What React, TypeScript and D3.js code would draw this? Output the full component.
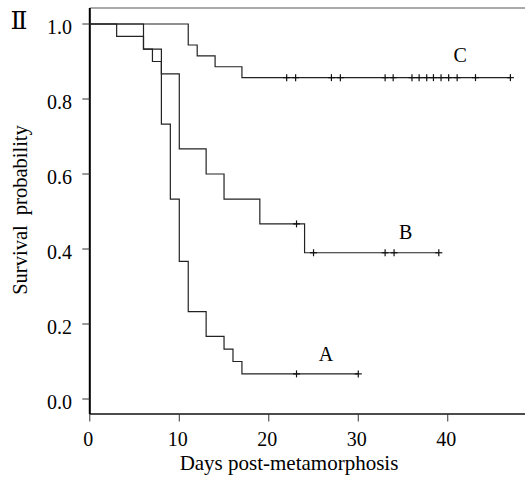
import React from "react";
import * as d3 from "d3";

const W = 525;
const H = 479;

// Group A
const timesA = [0, 3, 6, 7, 8, 9, 10, 11, 13, 15, 16, 17];
const survA = [1, 0.967, 0.933, 0.9, 0.733, 0.533, 0.367, 0.233, 0.167, 0.133, 0.1, 0.067];
const endA = 30;
const censorA = [23.1, 30];

// Group B
const timesB = [0, 6, 8, 10, 13, 15, 19, 24];
const survB = [1, 0.933, 0.867, 0.667, 0.6, 0.533, 0.467, 0.39];
const endB = 39;
const censorB = [23.1, 25, 33, 34, 39];

// Group C
const timesC = [0, 11, 12, 14, 17];
const survC = [1, 0.944, 0.915, 0.886, 0.857];
const endC = 47;
const censorC = [22, 23, 27, 28, 33, 33.9, 36, 36.8, 37.65, 38.4, 39.25, 40.1, 41.05, 43.1, 47];

const xTicks = [0, 10, 20, 30, 40];
const yTicks = [0, 0.2, 0.4, 0.6, 0.8, 1.0];

const groupLabels = ["A", "B", "C"];
const labelPos = [
  { t: 26.4, s: 0.102 },
  { t: 35.3, s: 0.427 },
  { t: 41.4, s: 0.9 },
];

export default function App() {
  const x = d3.scaleLinear().domain([0, 49]).range([89.8, 528.3]);
  const y = d3.scaleLinear().domain([-0.04, 1.0427]).range([414, 8]);

  const groups = [
    { times: timesA, surv: survA, end: endA, censor: censorA },
    { times: timesB, surv: survB, end: endB, censor: censorB },
    { times: timesC, surv: survC, end: endC, censor: censorC },
  ];

  const line = d3
    .line<[number, number]>()
    .x((d) => x(d[0]))
    .y((d) => y(d[1]))
    .curve(d3.curveStepAfter);

  const survAt = (g: any, t: number) => {
    let s = 1;
    for (let i = 0; i < g.times.length; i++) if (g.times[i] <= t) s = g.surv[i];
    return s;
  };

  const font = "'Liberation Serif', 'Times New Roman', serif";

  return (
    <svg width={W} height={H} style={{ position: "absolute", left: 0, top: 0 }}>
      <rect width={W} height={H} fill="#fff" />
      {/* frame */}
      <line x1={x(0)} x2={W + 5} y1={8} y2={8} stroke="#555" strokeWidth={1} />
      <line x1={x(0)} x2={W + 5} y1={414} y2={414} stroke="#111" strokeWidth={1.3} />
      <line x1={x(0)} x2={x(0)} y1={8} y2={414} stroke="#000" strokeWidth={2} />

      {/* y ticks */}
      {yTicks.map((v) => (
        <g key={"y" + v}>
          <line x1={x(0) - 7.5} x2={x(0)} y1={y(v)} y2={y(v)} stroke="#333" strokeWidth={1} />
          <text x={72} y={y(v) + 9.5} textAnchor="end" fontFamily={font} fontSize={20} fill="#000">
            {v.toFixed(1)}
          </text>
        </g>
      ))}
      {/* x ticks */}
      {xTicks.map((v) => (
        <g key={"x" + v}>
          <line x1={x(v)} x2={x(v)} y1={414} y2={421.5} stroke="#333" strokeWidth={1} />
          <text x={x(v) - 1.5} y={446} textAnchor="middle" fontFamily={font} fontSize={20} fill="#000">
            {v}
          </text>
        </g>
      ))}

      <text x={289} y={469.5} textAnchor="middle" fontFamily={font} fontSize={21} fill="#000">
        Days post-metamorphosis
      </text>
      <text
        transform={`translate(27,210) rotate(-90)`}
        textAnchor="middle"
        fontFamily={font}
        fontSize={20.5}
        wordSpacing={5}
        fill="#000"
      >
        Survival probability
      </text>
      <text x={10.5} y={29} fontFamily="'DejaVu Serif', serif" fontSize={25} fill="#000">
        Ⅱ
      </text>

      {groups.map((g, gi) => {
        const pts: [number, number][] = g.times.map((t, i) => [t, g.surv[i]] as [number, number]);
        pts.push([g.end, g.surv[g.surv.length - 1]]);
        return (
          <g key={gi}>
            <path d={line(pts) || ""} fill="none" stroke="#222" strokeWidth={1.2} />
            {g.censor.map((c, ci) => {
              const cx = x(c);
              const cy = y(survAt(g, c));
              return (
                <g key={ci} stroke="#111" strokeWidth={1.2}>
                  <line x1={cx} x2={cx} y1={cy - 3.5} y2={cy + 3.5} />
                  <line x1={cx - 3.5} x2={cx + 3.5} y1={cy} y2={cy} />
                </g>
              );
            })}
            <text
              x={x(labelPos[gi].t)}
              y={y(labelPos[gi].s)}
              textAnchor="middle"
              fontFamily={font}
              fontSize={20}
              fill="#000"
            >
              {groupLabels[gi]}
            </text>
          </g>
        );
      })}
    </svg>
  );
}
